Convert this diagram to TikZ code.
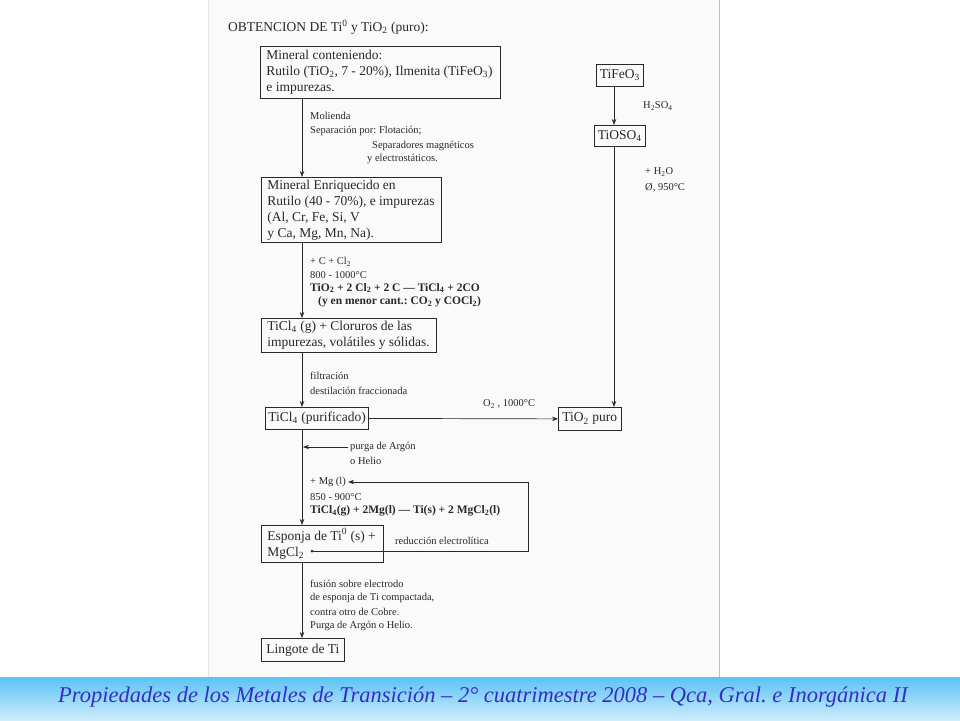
\documentclass[tikz,border=0pt]{standalone}
\usepackage{fontspec}
\setmainfont{Liberation Serif}
\usetikzlibrary{arrows.meta}
\frenchspacing
\definecolor{ink}{RGB}{40,40,40}
\definecolor{paper}{RGB}{250,250,250}
\definecolor{bantop}{RGB}{90,195,245}
\definecolor{banbot}{RGB}{205,236,252}
\definecolor{bantext}{RGB}{55,45,195}
\newcommand{\dn}[1]{\textsubscript{#1}}
\newcommand{\up}[1]{\textsuperscript{#1}}
\begin{document}
\begin{tikzpicture}[x=1pt,y=-1pt,
  box/.style={draw=ink, line width=0.8pt, anchor=north west, inner xsep=6pt, inner ysep=1pt, align=flush left, font=\fontsize{13.5}{16}\selectfont, text=ink},
  note/.style={anchor=west, inner sep=0pt, font=\fontsize{10.5}{12}\selectfont, text=ink},
  bnote/.style={note, font=\fontsize{11.5}{13}\selectfont\bfseries},
  arr/.style={draw=ink, line width=0.7pt, -{Stealth[length=6pt,width=4.5pt]}},
  ln/.style={draw=ink, line width=0.7pt}]
\useasboundingbox (0,0) rectangle (960,720);
% page
\fill[white] (0,0) rectangle (960,720);
\fill[paper] (208,0) rectangle (719,677);
\draw[black!25, line width=0.8pt] (719,0) -- (719,677);
\draw[black!10, line width=0.8pt] (208,0) -- (208,677);
% banner
\shade[top color=bantop, bottom color=banbot] (0,677) rectangle (960,720);
\node[font=\fontsize{22.5}{26}\selectfont\itshape, text=bantext, inner sep=0pt] (ban) at (483,697) {Propiedades de los Metales de Transición -- 2° cuatrimestre 2008 -- Qca, Gral. e Inorgánica II};
% title
\node[anchor=west, inner sep=0pt, font=\fontsize{13.5}{15}\selectfont, text=ink] (title) at (228,27) {OBTENCION DE Ti\up{0} y TiO\dn{2} (puro):};
% spine coordinates
\coordinate (sx) at (302,0);
\coordinate (rx) at (614,0);
\coordinate (lp) at (528,0);
% boxes
\node[box, text width=228pt, minimum height=52pt] (b1) at (260,46) {Mineral conteniendo:\\Rutilo (TiO\dn{2}, 7 - 20\%), Ilmenita (TiFeO\dn{3})\\e impurezas.};
\node[box, text width=168pt, minimum height=65pt] (b2) at (261,177) {Mineral Enriquecido en\\Rutilo (40 - 70\%), e impurezas\\(Al, Cr, Fe, Si, V\\y Ca, Mg, Mn, Na).};
\node[box, text width=163pt, minimum height=34pt] (b3) at (261,318) {TiCl\dn{4} (g) + Cloruros de las\\impurezas, volátiles y sólidas.};
\node[box, inner xsep=3pt, minimum height=22pt] (b4) at (265,407) {TiCl\dn{4} (purificado)};
\node[box, inner xsep=4pt, minimum height=23pt] (tio2) at (558,407) {TiO\dn{2} puro};
\node[box, inner xsep=3.5pt, minimum height=22pt] (tife) at (596,64) {TiFeO\dn{3}};
\node[box, inner xsep=3.5pt, minimum height=21pt] (tios) at (594,125) {TiOSO\dn{4}};
\node[box, text width=110pt, minimum height=37pt] (b5) at (261,525) {Esponja de Ti\up{0} (s) +\\MgCl\dn{2}};
\node[box, inner xsep=5pt, minimum height=23pt] (b6) at (261,638) {Lingote de Ti};
% notes
\node[note] (n1) at (310,116) {Molienda};
\node[note] (n2) at (310,131) {Separación por: Flotación;};
\node[note] (n3) at (372,146) {Separadores magnéticos};
\node[note] (n4) at (367,159) {y electrostáticos.};
\node[note] (n5) at (310,262) {+ C + Cl\dn{2}};
\node[note] (n6) at (310,275) {800 - 1000°C};
\node[bnote] (n7) at (310,288) {TiO\dn{2} + 2 Cl\dn{2} + 2 C --- TiCl\dn{4} + 2CO};
\node[bnote] (n8) at (318,302) {(y en menor cant.: CO\dn{2} y COCl\dn{2})};
\node[note] (n9) at (310,376) {filtración};
\node[note] (n10) at (310,391) {destilación fraccionada};
\node[note] (n11) at (483,404) {O\dn{2} , 1000°C};
\node[note] (n12) at (643,106) {H\dn{2}SO\dn{4}};
\node[note] (n13) at (645,172) {+ H\dn{2}O};
\node[note] (n14) at (645,188) {Ø, 950°C};
\node[note] (n15) at (350,447) {purga de Argón};
\node[note] (n16) at (350,461) {o Helio};
\node[note] (mg) at (310,482) {+ Mg (l)};
\node[note] (n17) at (310,497) {850 - 900°C};
\node[bnote] (n18) at (310,511) {TiCl\dn{4}(g) + 2Mg(l) --- Ti(s) + 2 MgCl\dn{2}(l)};
\node[note] (n19) at (395,541) {reducción electrolítica};
\node[note] (n20) at (310,584) {fusión sobre electrodo};
\node[note] (n21) at (310,598) {de esponja de Ti compactada,};
\node[note] (n22) at (310,612) {contra otro de Cobre.};
\node[note] (n23) at (310,626) {Purga de Argón o Helio.};
% connectors
\draw[arr] (b1.south -| sx) -- (b2.north -| sx);
\draw[arr] (b2.south -| sx) -- (b3.north -| sx);
\draw[arr] (b3.south -| sx) -- (b4.north -| sx);
\draw[arr] (b4.south -| sx) -- (b5.north -| sx);
\draw[arr] (b5.south -| sx) -- (b6.north -| sx);
\draw[arr] (b4.east) -- (tio2.west);
\draw[arr] (tife.south -| rx) -- (tios.north -| rx);
\draw[arr] (tios.south -| rx) -- (tio2.north -| rx);
\coordinate (pg) at (348,447);
\draw[arr, shorten >=1pt] (pg) -- (pg -| sx);
\coordinate (dot) at (312,551);
\fill[ink] (dot) circle (1.5pt);
\draw[arr, shorten >=2pt] (dot) -- (dot -| lp) |- (mg.east);
\end{tikzpicture}
\end{document}
